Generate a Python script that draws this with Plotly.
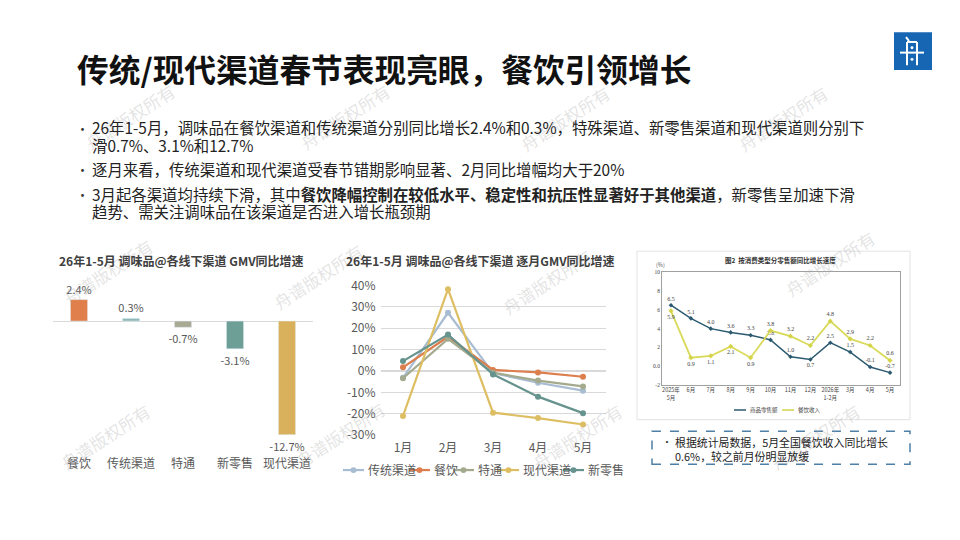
import plotly.graph_objects as go

W, H = 960, 540
FONT = "Noto Sans CJK SC"


def px(x):
    return x / W


def py(y):
    return 1 - y / H


# ---- left chart: 26年1-5月 GMV 同比增速
channels = ["餐饮", "传统渠道", "特通", "新零售", "现代渠道"]
gmv_growth = [2.4, 0.3, -0.7, -3.1, -12.7]
bar_colors = ["#E07F4B", "#8DBAB8", "#A9AA94", "#6E9F97", "#D9B15C"]

# ---- middle chart: 逐月 GMV 同比增速 (%)
months = ["1月", "2月", "3月", "4月", "5月"]
line_names = ["传统渠道", "餐饮", "特通", "现代渠道", "新零售"]
trad = [-3.2, 27.2, -1.0, -5.5, -9.2]
catering = [1.7, 16.0, 0.5, -0.7, -2.7]
special = [-3.4, 15.0, -0.8, -4.5, -7.2]
modern = [-21.0, 38.2, -19.5, -22.0, -25.0]
new_retail = [4.6, 17.0, -1.6, -12.0, -19.7]
line_colors = ["#A8BCD2", "#DC7E4E", "#A3AA8E", "#DDBE62", "#66938D"]
pct_ticks = [40, 30, 20, 10, 0, -10, -20, -30]

# ---- right chart: 统计局 按消费类型分零售额同比增长速度 (%)
nbs_months = ["2025年<br>5月", "6月", "7月", "8月", "9月", "10月", "11月", "12月",
              "2026年<br>1-2月", "3月", "4月", "5月"]
retail_sales = [6.5, 5.1, 4.0, 3.6, 3.3, 2.8, 1.0, 0.7, 2.5, 1.5, -0.1, -0.7]
catering_rev = [5.9, 0.9, 1.1, 2.1, 0.9, 3.8, 3.2, 2.2, 4.8, 2.9, 2.2, 0.6]
nbs_ticks = [10, 8, 6, 4, 2, 0, -2]
nbs_ticktext = ["10", "8", "6", "4", "2", "0.0", "-2"]

fig = go.Figure()

# bars
fig.add_trace(go.Bar(
    x=channels, y=gmv_growth, marker_color=bar_colors, width=0.33,
    texttemplate="%{y:.1f}%", textposition="outside", cliponaxis=False, constraintext="none",
    textfont=dict(size=11, color="#595959"), xaxis="x", yaxis="y",
    showlegend=False,
))

# monthly lines
for name, vals, col in zip(line_names, [trad, catering, special, modern, new_retail], line_colors):
    fig.add_trace(go.Scatter(
        x=months, y=vals, name=name, mode="lines+markers",
        line=dict(color=col, width=2.2), marker=dict(size=6, color=col),
        xaxis="x2", yaxis="y2", showlegend=False, cliponaxis=False,
    ))

# NBS chart
retail_pos = ["top center"] * 12
retail_pos[7] = "bottom center"
cater_pos = ["bottom center"] * 5 + ["top center"] * 7
fig.add_trace(go.Scatter(
    x=nbs_months, y=retail_sales, mode="lines+markers+text",
    text=[f"{v:.1f}" for v in retail_sales], textposition=retail_pos,
    textfont=dict(size=6, color="#444", family="Liberation Serif"),
    line=dict(color="#2B5A70", width=1.5), marker=dict(size=3.5, symbol="diamond", color="#2B5A70"),
    xaxis="x3", yaxis="y3", showlegend=False, cliponaxis=False,
))
fig.add_trace(go.Scatter(
    x=nbs_months, y=catering_rev, mode="lines+markers+text",
    text=[f"{v:.1f}" for v in catering_rev], textposition=cater_pos,
    textfont=dict(size=6, color="#444", family="Liberation Serif"),
    line=dict(color="#DADA5A", width=1.8), marker=dict(size=4, symbol="diamond", color="#D4D44A"),
    xaxis="x3", yaxis="y3", showlegend=False, cliponaxis=False,
))

ann = []
shapes = []


def text(x, y, s, size, color="#222", xanchor="left", **kw):
    ann.append(dict(x=px(x), y=py(y), xref="paper", yref="paper", text=s, showarrow=False,
                    xanchor=xanchor, yanchor="middle", font=dict(size=size, color=color,
                    family=kw.pop("family", FONT)), **kw))


# watermarks
for wx, wy in [(130, 110), (345, 110), (565, 112), (783, 112),
               (108, 270), (318, 275), (547, 280), (830, 262),
               (105, 440), (340, 438), (577, 440), (815, 440)]:
    text(wx, wy, "舟谱版权所有", 17, "rgba(170,170,170,0.33)", xanchor="center",
         textangle=-33, family="Noto Sans CJK SC")

# title + logo
text(75, 60, "<b>传统/现代渠道春节表现亮眼，餐饮引领增长</b>", 31.7, "#111")
shapes.append(dict(type="rect", xref="paper", yref="paper", x0=px(894), x1=px(932), y0=py(62), y1=py(23),
                   fillcolor="#1766B4", line=dict(width=0), layer="below"))
for x0, y0, x1, y1 in [(907, 33, 907, 57), (917, 33, 917, 57), (907, 33, 917, 33),
                       (900, 44, 924, 44), (906, 28, 909, 32)]:
    shapes.append(dict(type="line", xref="paper", yref="paper", x0=px(x0), y0=py(y0), x1=px(x1), y1=py(y1),
                       line=dict(color="white", width=2)))
for cx, cy in [(912, 39), (912, 51)]:
    shapes.append(dict(type="circle", xref="paper", yref="paper", x0=px(cx - 1.5), x1=px(cx + 1.5),
                       y0=py(cy + 1.5), y1=py(cy - 1.5), fillcolor="white", line=dict(width=0)))

# bullets
body = [
    (121, "26年1-5月，调味品在餐饮渠道和传统渠道分别同比增长2.4%和0.3%，特殊渠道、新零售渠道和现代渠道则分别下", True),
    (139, "滑0.7%、3.1%和12.7%", False),
    (164, "逐月来看，传统渠道和现代渠道受春节错期影响显著、2月同比增幅均大于20%", True),
    (190, "3月起各渠道均持续下滑，其中<b>餐饮降幅控制在较低水平、稳定性和抗压性显著好于其他渠道</b>，新零售呈加速下滑", True),
    (208, "趋势、需关注调味品在该渠道是否进入增长瓶颈期", False),
]
for y, s, dot in body:
    if dot:
        text(74, y + 1, "•", 13, "#333")
    text(90, y, s, 15.4, "#222")

# chart titles
text(181, 259, "<b>26年1-5月 调味品@各线下渠道 GMV同比增速</b>", 12, "#404040", xanchor="center")
text(480, 259, "<b>26年1-5月 调味品@各线下渠道 逐月GMV同比增速</b>", 12, "#404040", xanchor="center")

# middle chart legend
for lx, name, col in zip([343, 409, 453, 498, 563], line_names, line_colors):
    shapes.append(dict(type="line", xref="paper", yref="paper", x0=px(lx), x1=px(lx + 21),
                       y0=py(475), y1=py(475), line=dict(color=col, width=2.2)))
    shapes.append(dict(type="circle", xref="paper", yref="paper", x0=px(lx + 7.5), x1=px(lx + 13.5),
                       y0=py(478), y1=py(472), fillcolor=col, line=dict(width=0)))
    text(lx + 23, 474, name, 12, "#595959")

# NBS chart frame, title, legend
shapes.append(dict(type="rect", xref="paper", yref="paper", x0=px(637), x1=px(910), y0=py(423), y1=py(249),
                   line=dict(color="#E3E3E3", width=1), fillcolor="white", layer="below"))
text(780, 258, "<b>图2  按消费类型分零售额同比增长速度</b>", 6.5, "#333", xanchor="center")
text(660, 263, "(%)", 5.5, "#555", xanchor="center")
for lx, name, col in [(734, "商品零售额", "#2B5A70"), (782, "餐饮收入", "#D4D44A")]:
    shapes.append(dict(type="line", xref="paper", yref="paper", x0=px(lx), x1=px(lx + 12),
                       y0=py(413), y1=py(413), line=dict(color=col, width=1.5)))
    text(lx + 14, 413, name, 5.5, "#444")

# dashed note box
shapes.append(dict(type="rect", xref="paper", yref="paper", x0=px(652), x1=px(910), y0=py(469), y1=py(435),
                   line=dict(color="#4E7FA6", width=1.5, dash="dash")))
text(660, 446, "•", 10, "#333")
text(673, 446, "根据统计局数据，5月全国餐饮收入同比增长", 10.9, "#222")
text(673, 460, "0.6%，较之前月份明显放缓", 10.9, "#222")

fig.update_layout(
    width=W, height=H, margin=dict(l=0, r=0, t=0, b=0), autosize=False,
    paper_bgcolor="white", plot_bgcolor="rgba(0,0,0,0)",
    font=dict(family=FONT, color="#595959"),
    annotations=ann, shapes=shapes, bargap=0.5,
    xaxis=dict(domain=[px(53), px(313)], anchor="y", range=[-0.5, 4.5], showline=False, showgrid=False,
               ticks="", tickfont=dict(size=12, color="#595959"), ticklabelstandoff=14, fixedrange=True),
    yaxis=dict(domain=[py(445), py(285)], anchor="x", range=[-13.41, 3.92], visible=True, showgrid=False,
               showticklabels=False, zeroline=True, zerolinecolor="#D9D9D9", zerolinewidth=1, showline=False),
    xaxis2=dict(domain=[px(380.5), px(605.5)], anchor="y2", range=[-0.5, 4.5], showgrid=False, showline=False,
                ticks="", tickfont=dict(size=12, color="#595959"), ticklabelstandoff=4),
    yaxis2=dict(domain=[py(439), py(284.3)], anchor="x2", range=[-30, 40], tickvals=pct_ticks,
                ticktext=[f"{v}%" for v in pct_ticks],
                gridcolor="#D9D9D9", zerolinecolor="#D9D9D9", showline=False,
                tickfont=dict(size=12, color="#595959"), ticklabelstandoff=4),
    xaxis3=dict(domain=[px(662), px(900)], anchor="y3", range=[-0.45, 11.5], showgrid=False,
                showline=True, linecolor="#A0A0A0", mirror=True, ticks="",
                tickfont=dict(size=5.5, color="#444", family="Noto Sans CJK SC"), tickangle=0),
    yaxis3=dict(domain=[py(387), py(271)], anchor="x3", range=[-2, 10], tickvals=nbs_ticks,
                ticktext=nbs_ticktext, showgrid=False, zeroline=False, showline=True, linecolor="#A0A0A0",
                mirror=True, ticks="", tickfont=dict(size=5.5, color="#444", family="Liberation Serif")),
)

fig.write_html("out.html", config={"displayModeBar": False},
               post_script="document.body.style.margin='0';document.body.style.overflow='hidden';")
